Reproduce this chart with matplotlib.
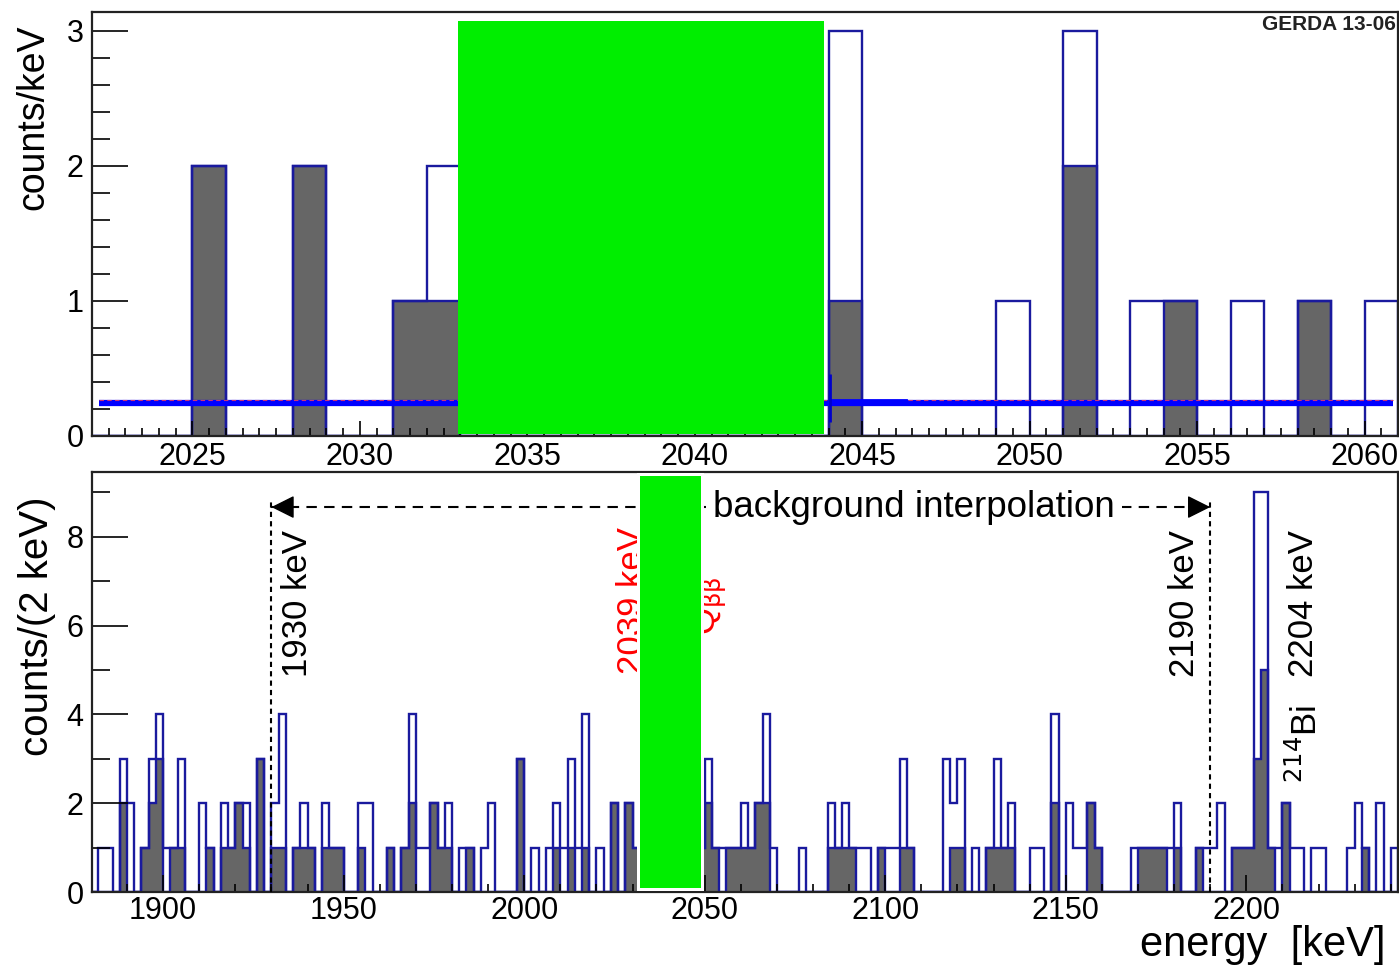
import numpy as np
import matplotlib.pyplot as plt
from matplotlib.patches import Rectangle
from matplotlib.ticker import MultipleLocator

plt.rcParams['font.family'] = ['Liberation Sans', 'DejaVu Sans']

# ---- top panel: 1 keV bins around Q_bb ----
top_edges = np.arange(2022, 2062, 1)
top_all = [0, 0, 0, 2, 0, 0, 2, 0, 0, 1,
           2, 0, 0, 0, 0, 0, 0, 0, 0, 0,
           0, 0, 3, 0, 0, 0, 0, 1, 0, 3,
           0, 1, 1, 0, 1, 0, 1, 0, 1]
top_psd = [0, 0, 0, 2, 0, 0, 2, 0, 0, 1,
           1, 0, 0, 0, 0, 0, 0, 0, 0, 0,
           0, 0, 1, 0, 0, 0, 0, 0, 0, 2,
           0, 0, 1, 0, 0, 0, 1, 0, 0]

# background fit level (counts/keV)
fit_x = [2022.2, 2060.85]
fit_y = [0.245, 0.245]
fit_bump_x = [2044.05, 2046.3]
fit_bump_y = [0.27, 0.27]

# ---- bottom panel: 2 keV bins ----
bot_edges = np.arange(1880, 2243, 2)
bot_all = [0, 1, 1, 0, 3, 2, 0, 1, 3, 4,   # 1880
           1, 1, 3, 0, 0, 2, 1, 0, 2, 1,   # 1900
           2, 2, 0, 3, 0, 2, 4, 0, 1, 2,   # 1920
           1, 0, 2, 1, 1, 0, 0, 2, 2, 0,   # 1940
           0, 1, 0, 1, 4, 1, 1, 2, 1, 2,   # 1960
           0, 1, 1, 0, 1, 2, 0, 0, 0, 3,   # 1980
           0, 1, 0, 1, 2, 1, 3, 1, 4, 0,   # 2000
           1, 0, 2, 0, 2, 1, 2, 0, 1, 0,   # 2020
           1, 1, 3, 0, 1, 3, 1, 1, 1, 1,   # 2040
           2, 1, 2, 4, 1, 0, 0, 0, 1, 0,   # 2060
           0, 0, 2, 1, 2, 1, 1, 1, 0, 1,   # 2080
           1, 1, 3, 1, 0, 0, 0, 0, 3, 2,   # 2100
           3, 0, 1, 0, 1, 3, 1, 2, 0, 0,   # 2120
           1, 1, 0, 4, 0, 2, 1, 1, 2, 1,   # 2140
           0, 0, 0, 0, 1, 1, 1, 1, 1, 1,   # 2160
           2, 0, 0, 1, 1, 1, 2, 0, 1, 1,   # 2180
           1, 9, 9, 1, 1, 2, 1, 1, 0, 1,   # 2200
           1, 0, 0, 0, 1, 2, 1, 0, 2, 0, 1]  # 2220
bot_psd = [0, 0, 0, 0, 2, 0, 0, 1, 2, 3,
           0, 1, 1, 0, 0, 0, 1, 0, 1, 1,
           2, 1, 0, 3, 0, 1, 1, 0, 1, 1,
           1, 0, 1, 1, 1, 0, 0, 1, 0, 0,
           0, 1, 0, 1, 2, 0, 0, 2, 1, 1,
           0, 0, 1, 0, 0, 0, 0, 0, 0, 3,
           0, 0, 0, 0, 1, 0, 1, 0, 1, 0,
           0, 0, 2, 0, 2, 1, 1, 0, 0, 0,
           0, 0, 1, 0, 1, 2, 1, 0, 1, 1,
           1, 1, 2, 2, 0, 0, 0, 0, 0, 0,
           0, 0, 1, 1, 1, 1, 0, 0, 0, 1,
           0, 0, 1, 1, 0, 0, 0, 0, 0, 1,
           1, 0, 0, 0, 1, 1, 1, 1, 0, 0,
           0, 0, 0, 2, 0, 0, 0, 0, 2, 1,
           0, 0, 0, 0, 0, 1, 1, 1, 1, 0,
           1, 0, 0, 1, 0, 0, 0, 0, 1, 1,
           1, 3, 5, 1, 0, 2, 0, 0, 0, 0,
           0, 0, 0, 0, 0, 0, 1, 0, 0, 0, 0]

win_lo, win_hi = 1930, 2190
arrow_y = 8.67

GRAY = '#666666'
BLUE = '#1a1a9e'
W, H = 1399, 967

fig = plt.figure(figsize=(W / 100, H / 100), dpi=100)
ax1 = fig.add_axes([92 / W, 1 - 436 / H, 1306 / W, 424 / H])
ax2 = fig.add_axes([92 / W, 1 - 892 / H, 1306 / W, 420 / H])


def style(ax):
    for s in ax.spines.values():
        s.set_color('#222222')
        s.set_linewidth(1.6)
    ax.tick_params(which='both', direction='in', top=False, right=False,
                   width=1.2, color='black', labelsize=22)
    ax.tick_params(axis='y', which='major', length=26, pad=6)
    ax.tick_params(axis='y', which='minor', length=13)


def draw_hist(ax, edges, h_all, h_psd):
    ax.stairs(h_psd, edges, fill=True, color=GRAY, lw=0)
    ax.stairs(h_psd, edges, color=BLUE, lw=1.7)
    ax.stairs(h_all, edges, color=BLUE, lw=1.7)


# top panel
draw_hist(ax1, top_edges, top_all, top_psd)
ax1.plot(fit_x, fit_y, color='#0000ff', lw=4.5, solid_capstyle='butt', zorder=3)
ax1.plot(fit_x, [v + 0.02 for v in fit_y], color='#cc3377', lw=0.8,
         ls=(0, (4, 3)), zorder=3)
ax1.plot(fit_bump_x, fit_bump_y, color='#0000ff', lw=2, zorder=3)
ax1.vlines(fit_bump_x[0], 0.1, 0.46, color='#0000cc', lw=2, zorder=3)
ax1.set_xlim(2022, 2061)
ax1.set_ylim(0, 3.14)
style(ax1)
ax1.xaxis.set_major_locator(MultipleLocator(5))
ax1.xaxis.set_minor_locator(MultipleLocator(0.5))
ax1.yaxis.set_major_locator(MultipleLocator(1))
ax1.yaxis.set_minor_locator(MultipleLocator(0.2))
ax1.tick_params(axis='x', which='major', length=11, pad=4)
ax1.tick_params(axis='x', which='minor', length=6)
ax1.text(0.998, 0.993, 'GERDA 13-06', transform=ax1.transAxes, ha='right',
         va='top', fontsize=15, fontweight='bold', color='#222222')

# bottom panel
draw_hist(ax2, bot_edges, bot_all, bot_psd)
ax2.set_xlim(1880.3, 2242)
ax2.set_ylim(0, 9.46)
style(ax2)
ax2.xaxis.set_major_locator(MultipleLocator(50))
ax2.xaxis.set_minor_locator(MultipleLocator(10))
ax2.yaxis.set_major_locator(MultipleLocator(2))
ax2.yaxis.set_minor_locator(MultipleLocator(1))
ax2.tick_params(axis='x', which='major', length=12, pad=3)
ax2.tick_params(axis='x', which='minor', length=6)

# interpolation window
for xv in (win_lo, win_hi):
    ax2.plot([xv, xv], [0, arrow_y + 0.12], color='black', lw=1.5,
             ls=(0, (2.5, 2)), zorder=4)
ax2.plot([win_lo, win_hi], [arrow_y, arrow_y], color='black', lw=1.5,
         ls=(0, (5, 3.5)), zorder=4)
for tip, tail in ((win_lo, win_lo + 6), (win_hi, win_hi - 6)):
    ax2.annotate('', xy=(tip, arrow_y), xytext=(tail, arrow_y),
                 arrowprops=dict(arrowstyle='-|>', color='black', lw=1,
                                 mutation_scale=36, shrinkA=0, shrinkB=0),
                 zorder=5)
ax2.text(2108, arrow_y, 'background interpolation', ha='center', va='center',
         fontsize=26.5, zorder=6,
         bbox=dict(boxstyle='square,pad=0.2', fc='white', ec='none'))

ax2.text(1937.3, 8.16, '1930 keV', rotation=90, ha='center', va='top',
         fontsize=25)
ax2.text(2182.8, 8.16, '2190 keV', rotation=90, ha='center', va='top',
         fontsize=25)
ax2.text(2215.8, 8.16, '2204 keV', rotation=90, ha='center', va='top',
         fontsize=25)
ax2.text(2216.5, 4.21, r'$^{214}$Bi', rotation=90, ha='center', va='top',
         fontsize=25)
ax2.text(2029.9, 8.22, '2039 keV', rotation=90, ha='center', va='top',
         fontsize=25, color='red')
ax2.text(2051.2, 7.1, r'Q$_{\mathrm{\beta\beta}}$', rotation=90, ha='center',
         va='top', fontsize=25, color='red')

# axis titles
fig.text(33 / W, 1 - 25 / H, 'counts/keV', rotation=90, ha='center',
         va='top', fontsize=27)
fig.text(37 / W, 1 - 497 / H, 'counts/(2 keV)', rotation=90, ha='center',
         va='top', fontsize=29)
fig.text(1385 / W, 1 - 945 / H, 'energy  [keV]', ha='right', va='center',
         fontsize=30)

# masking boxes
fig.add_artist(Rectangle((458 / W, 1 - 434 / H), 366 / W, 413 / H,
                         transform=fig.transFigure, fc='#00ee00', ec='none',
                         zorder=20))
fig.add_artist(Rectangle((637 / W, 1 - 891 / H), 67 / W, 418 / H,
                         transform=fig.transFigure, fc='white', ec='none',
                         zorder=20))
fig.add_artist(Rectangle((640 / W, 1 - 888 / H), 61 / W, 412 / H,
                         transform=fig.transFigure, fc='#00ee00', ec='none',
                         zorder=21))

fig.savefig('out.png', dpi=100)
